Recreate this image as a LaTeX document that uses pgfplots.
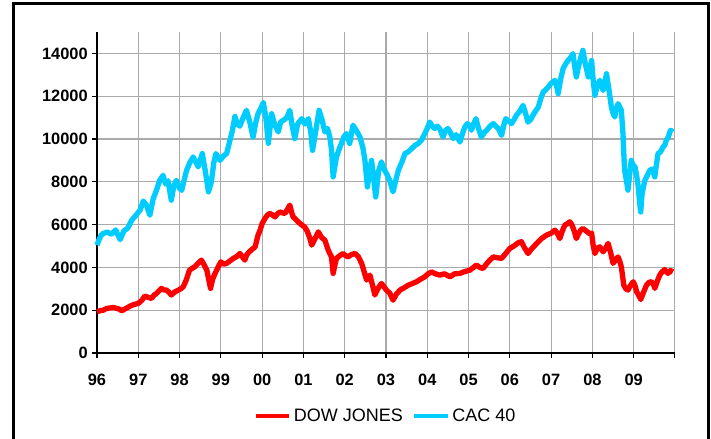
\documentclass[border=0pt]{standalone}
\usepackage{pgfplots}
\pgfplotsset{compat=1.18}
\usepackage{fontspec}
\setmainfont{Liberation Sans}
\definecolor{djred}{RGB}{255,0,0}
\definecolor{caccyan}{RGB}{0,204,255}
\definecolor{gridgray}{RGB}{170,170,170}
\begin{document}
\begin{tikzpicture}
\useasboundingbox (-72.75pt,-64.5pt) rectangle (460.5pt,264.75pt);
\draw[line width=2.2pt,black] (-62.6pt,-70pt) -- (-62.6pt,262.4pt) -- (458.3pt,262.4pt) -- (458.3pt,-70pt);
\begin{axis}[
  at={(0pt,0pt)}, anchor=south west,
  scale only axis,
  width=433.5pt, height=240.75pt,
  xmin=1996, xmax=2010, ymin=0, ymax=15000,
  scaled y ticks=false, scaled x ticks=false,
  xtick={1996,...,2010},
  xticklabels={96,97,98,99,00,01,02,03,04,05,06,07,08,09,{}},
  ytick={0,2000,...,14000},
  yticklabels={0,2000,4000,6000,8000,10000,12000,14000},
  axis x line*=bottom, axis y line*=left,
  axis line style={black, line width=0.8pt, -},
  tick align=outside, tick style={black, line width=0.8pt},
  major tick length=3.5pt,
  grid=major, grid style={gridgray, line width=0.8pt},
  ticklabel style={font=\fontsize{12.3}{14}\selectfont\bfseries},
  xticklabel style={yshift=-8.5pt},
  legend style={at={(0.5,-0.196)}, anchor=center, draw=none, fill=none,
    font=\fontsize{13.5}{16}\selectfont, legend columns=2,
    /tikz/every even column/.append style={column sep=5pt}},
  legend image code/.code={\draw[#1, line width=3pt] (0pt,0pt) -- (25pt,0pt);},
  clip=false,
]
\addplot[djred, line width=4pt, line join=round] coordinates {
(1996.00,1930)(1996.08,1980)(1996.15,2000)(1996.23,2080)(1996.30,2100)(1996.40,2130)(1996.48,2080)(1996.54,2050)(1996.60,1975)(1996.70,2080)(1996.80,2190)(1996.90,2270)
(1997.00,2320)(1997.08,2450)(1997.16,2660)(1997.24,2600)(1997.32,2550)(1997.38,2700)(1997.44,2780)(1997.50,2900)(1997.56,3020)(1997.62,2950)(1997.68,2940)(1997.74,2850)(1997.80,2710)(1997.88,2850)(1997.97,2940)
(1998.03,3000)(1998.09,3100)(1998.16,3400)(1998.24,3870)(1998.30,3950)(1998.37,4030)(1998.45,4200)(1998.53,4340)(1998.60,4100)(1998.66,3870)(1998.71,3400)(1998.75,3020)(1998.80,3450)(1998.86,3720)(1998.93,4000)
(1999.00,4260)(1999.07,4150)(1999.14,4190)(1999.22,4300)(1999.30,4420)(1999.38,4500)(1999.46,4650)(1999.52,4500)(1999.58,4340)(1999.63,4600)(1999.69,4730)(1999.76,4850)(1999.83,4960)(1999.90,5500)(1999.95,5740)
(2000.00,6050)(2000.07,6290)(2000.13,6450)(2000.19,6520)(2000.25,6450)(2000.31,6360)(2000.37,6500)(2000.43,6590)(2000.49,6550)(2000.55,6520)(2000.61,6700)(2000.67,6910)(2000.71,6600)(2000.75,6360)(2000.81,6250)(2000.87,6130)(2000.95,6000)
(2001.03,5890)(2001.09,5700)(2001.15,5400)(2001.20,5040)(2001.27,5300)(2001.36,5660)(2001.44,5400)(2001.52,5270)(2001.60,4810)(2001.68,4490)(2001.72,3720)(2001.76,4100)(2001.80,4420)(2001.88,4550)(2001.96,4650)
(2002.02,4550)(2002.08,4490)(2002.16,4600)(2002.25,4650)(2002.33,4500)(2002.41,4190)(2002.47,3800)(2002.53,3410)(2002.61,3640)(2002.67,3200)(2002.73,2710)(2002.80,3000)(2002.89,3250)(2002.95,3100)
(2003.01,2940)(2003.09,2800)(2003.17,2470)(2003.25,2750)(2003.34,2940)(2003.44,3050)(2003.54,3170)(2003.64,3250)(2003.74,3330)(2003.84,3450)(2003.94,3560)
(2004.02,3700)(2004.10,3790)(2004.20,3700)(2004.30,3640)(2004.42,3700)(2004.55,3560)(2004.66,3700)(2004.79,3720)(2004.90,3800)
(2005.03,3870)(2005.12,4000)(2005.19,4110)(2005.27,4000)(2005.35,3950)(2005.45,4200)(2005.52,4350)(2005.60,4490)(2005.70,4450)(2005.80,4420)(2005.90,4650)
(2006.00,4890)(2006.10,5000)(2006.20,5150)(2006.28,5200)(2006.36,4900)(2006.44,4650)(2006.52,4850)(2006.65,5120)(2006.77,5350)(2006.89,5510)
(2007.00,5600)(2007.09,5740)(2007.15,5600)(2007.21,5350)(2007.27,5700)(2007.33,5970)(2007.40,6050)(2007.45,6130)(2007.50,6000)(2007.56,5700)(2007.61,5350)(2007.67,5600)(2007.72,5750)(2007.77,5820)(2007.85,5700)(2007.92,5590)(2007.98,5600)
(2008.02,5000)(2008.06,4650)(2008.12,4900)(2008.18,4960)(2008.22,4850)(2008.26,4730)(2008.32,4900)(2008.38,5120)(2008.44,4700)(2008.50,4190)(2008.56,4350)(2008.62,4490)(2008.66,4300)(2008.70,4030)(2008.73,3600)(2008.76,3170)(2008.81,3000)(2008.86,2940)(2008.92,3150)(2008.99,3330)
(2009.04,3100)(2009.07,2860)(2009.12,2700)(2009.17,2500)(2009.24,2850)(2009.31,3170)(2009.37,3300)(2009.43,3330)(2009.48,3200)(2009.51,3020)(2009.57,3350)(2009.63,3640)(2009.69,3800)(2009.75,3900)(2009.79,3800)(2009.83,3720)(2009.89,3850)(2009.95,3790)
};
\addlegendentry{DOW JONES}
\addplot[caccyan, line width=4pt, line join=round] coordinates {
(1996.00,5040)(1996.05,5300)(1996.10,5500)(1996.15,5585)(1996.25,5650)(1996.35,5550)(1996.45,5750)(1996.56,5300)(1996.65,5700)(1996.75,5850)(1996.84,6200)(1996.95,6450)
(1997.05,6700)(1997.12,7100)(1997.20,6900)(1997.28,6440)(1997.36,7200)(1997.44,7600)(1997.52,8070)(1997.60,8300)(1997.66,7900)(1997.72,8050)(1997.80,7140)(1997.86,7800)(1997.92,8070)
(1998.00,7700)(1998.05,7600)(1998.10,8000)(1998.17,8540)(1998.25,8900)(1998.33,9160)(1998.40,8900)(1998.45,8700)(1998.55,9320)(1998.62,8540)(1998.70,7530)(1998.77,8000)(1998.83,8900)(1998.88,9320)(1998.98,9000)
(1999.06,9200)(1999.14,9320)(1999.22,9940)(1999.28,10400)(1999.34,11050)(1999.40,10700)(1999.46,10600)(1999.54,11000)(1999.62,11340)(1999.70,10800)(1999.78,10090)(1999.85,10800)(1999.90,11180)(1999.96,11400)
(2000.03,11700)(2000.09,11000)(2000.15,9800)(2000.23,11180)(2000.30,10700)(2000.39,10330)(2000.45,10800)(2000.51,10870)(2000.60,11000)(2000.67,11340)(2000.73,10600)(2000.79,10020)(2000.86,10700)(2000.96,10950)
(2001.04,10700)(2001.12,10950)(2001.18,10300)(2001.22,9470)(2001.30,10400)(2001.38,11340)(2001.45,10900)(2001.52,10330)(2001.58,10500)(2001.64,10090)(2001.68,9500)(2001.72,8230)(2001.76,8700)(2001.80,9160)(2001.86,9500)(2001.92,9790)(2001.98,10100)
(2002.04,10250)(2002.12,9790)(2002.20,10640)(2002.28,10400)(2002.37,10090)(2002.44,9600)(2002.49,9000)(2002.55,7760)(2002.60,8500)(2002.65,9000)(2002.70,8200)(2002.75,7290)(2002.82,8500)(2002.89,8930)(2002.95,8600)
(2003.01,8390)(2003.09,8070)(2003.17,7530)(2003.24,8100)(2003.30,8540)(2003.38,8900)(2003.46,9320)(2003.54,9400)(2003.62,9550)(2003.70,9700)(2003.78,9790)(2003.86,9950)(2003.94,10250)
(2004.00,10500)(2004.06,10790)(2004.12,10600)(2004.18,10490)(2004.24,10600)(2004.30,10490)(2004.38,10090)(2004.44,10400)(2004.50,10490)(2004.56,10300)(2004.63,10020)(2004.70,10200)(2004.79,9860)(2004.86,10300)(2004.91,10560)(2004.97,10720)
(2005.03,10600)(2005.07,10410)(2005.12,10700)(2005.18,10950)(2005.24,10500)(2005.31,10090)(2005.38,10300)(2005.44,10410)(2005.52,10600)(2005.60,10720)(2005.66,10600)(2005.72,10490)(2005.80,10170)(2005.86,10700)(2005.90,10950)(2005.97,10850)
(2006.04,10720)(2006.10,10900)(2006.16,11110)(2006.24,11300)(2006.32,11570)(2006.38,11200)(2006.44,10790)(2006.50,10900)(2006.56,11110)(2006.62,11300)(2006.69,11490)(2006.75,11900)(2006.81,12200)(2006.87,12300)(2006.93,12430)
(2007.00,12600)(2007.09,12740)(2007.13,12500)(2007.17,12120)(2007.23,12800)(2007.29,13290)(2007.35,13500)(2007.41,13670)(2007.47,13800)(2007.53,13990)(2007.57,13400)(2007.61,12900)(2007.65,13300)(2007.69,13600)(2007.73,13900)(2007.77,14140)(2007.83,13500)(2007.90,12900)(2007.94,13300)(2007.98,13670)
(2008.02,12700)(2008.06,12040)(2008.12,12500)(2008.18,12740)(2008.22,12500)(2008.26,12270)(2008.30,12600)(2008.34,13050)(2008.40,12300)(2008.46,11490)(2008.50,11200)(2008.54,11030)(2008.58,11400)(2008.62,11650)(2008.66,11500)(2008.70,11340)(2008.74,10250)(2008.76,9300)(2008.78,8540)(2008.82,8100)(2008.86,7610)(2008.90,8300)(2008.94,9000)(2008.98,8800)
(2009.03,8700)(2009.07,8300)(2009.11,7760)(2009.14,7100)(2009.17,6590)(2009.20,7400)(2009.23,7700)(2009.27,8070)(2009.33,8300)(2009.39,8540)(2009.45,8600)(2009.51,8230)(2009.55,8800)(2009.59,9320)(2009.65,9400)(2009.71,9630)(2009.75,9700)(2009.79,9940)(2009.84,10100)(2009.89,10410)(2009.95,10330)
};
\addlegendentry{CAC 40}
\end{axis}
\end{tikzpicture}
\end{document}
